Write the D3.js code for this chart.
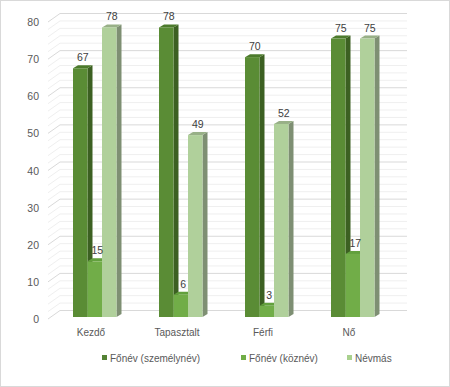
<!DOCTYPE html>
<html><head><meta charset="utf-8">
<script src="https://cdn.jsdelivr.net/npm/d3@7"></script>
<style>body{margin:0;background:#fff}svg{display:block}text{font-family:"Liberation Sans",Arial,sans-serif}</style>
</head><body>
<svg id="c" width="450" height="387"></svg>
<script>
const categories = ["Kezdő", "Tapasztalt", "Férfi", "Nő"];
const seriesNames = ["Főnév (személynév)", "Főnév (köznév)", "Névmás"];
const szemelynev = [67, 78, 70, 75];
const koznev = [15, 6, 3, 17];
const nevmas = [78, 49, 52, 75];
const yTicks = [0, 10, 20, 30, 40, 50, 60, 70, 80];

const seriesValues = [szemelynev, koznev, nevmas];
const colors = [
  {front:"#5a8c35", side:"#3c6022", top:"#4c7a2c", legend:"#548235"},
  {front:"#71ad48", side:"#4f7d33", top:"#62a03d", legend:"#70ad47"},
  {front:"#b0d09b", side:"#7e8f73", top:"#98b087", legend:"#a9d18e"}
];

const svg = d3.select("#c");
svg.append("rect").attr("x",0.5).attr("y",0.5).attr("width",449).attr("height",386)
  .attr("fill","#fff").attr("stroke","#d9d9d9");

const y = d3.scaleLinear().domain([0,80]).range([319,22]);
const x0 = d3.scaleBand().domain(categories).range([48,392]);
const x1 = d3.scaleBand().domain(seriesNames).range([0,43.5]);
const wallDx = 12, wallDy = -8.5;   // back wall offset
const barShiftY = -2;               // bar front plane
const dx = 5, dy = -3;              // bar depth
const wallRight = 407;

// minor gridlines
const minor = d3.range(0, 81, 2).filter(v => v % 10 !== 0);
const g = svg.append("g");
minor.forEach(v => {
  const yb = y(v) + wallDy;
  g.append("line").attr("x1",48+wallDx).attr("x2",wallRight).attr("y1",yb).attr("y2",yb)
    .attr("stroke","#efefef").attr("stroke-width",1);
  g.append("line").attr("x1",48).attr("y1",y(v)).attr("x2",48+wallDx).attr("y2",yb)
    .attr("stroke","#efefef");
});
yTicks.forEach(v => {
  const yb = y(v) + wallDy;
  g.append("line").attr("x1",48+wallDx).attr("x2",wallRight).attr("y1",yb).attr("y2",yb)
    .attr("stroke","#d9d9d9").attr("stroke-width",1);
  g.append("line").attr("x1",48).attr("y1",y(v)).attr("x2",48+wallDx).attr("y2",yb)
    .attr("stroke","#d9d9d9");
  svg.append("text").attr("x",39).attr("y",y(v)+4).attr("text-anchor","end")
    .attr("font-size",10.5).attr("fill","#595959").text(v);
});

// bars
const bars = svg.append("g");
const labels = svg.append("g");
categories.forEach((c, ci) => {
  seriesNames.forEach((s, si) => {
    const v = seriesValues[si][ci];
    const xl = x0(c) + 25 + x1(s);
    const w = x1.bandwidth();
    const xr = xl + w;
    const yt = y(v) + barShiftY;
    const yb = y(0) + barShiftY;
    const col = colors[si];
    bars.append("polygon").attr("points",
      [[xr,yt],[xr+dx,yt+dy],[xr+dx,yb+dy],[xr,yb]].map(p=>p.join(",")).join(" "))
      .attr("fill",col.side);
    bars.append("polygon").attr("points",
      [[xl,yt],[xl+dx,yt+dy],[xr+dx,yt+dy],[xr,yt]].map(p=>p.join(",")).join(" "))
      .attr("fill",col.top);
    bars.append("rect").attr("x",xl).attr("y",yt).attr("width",w).attr("height",yb-yt)
      .attr("fill",col.front);
    labels.append("text").attr("x",xl + w/2 + dx/2).attr("y",yt + dy - 4)
      .attr("text-anchor","middle").attr("font-size",10.5).attr("fill","#404040").text(v);
  });
  svg.append("text").attr("x",x0(c)+x0.bandwidth()/2).attr("y",336)
    .attr("text-anchor","middle").attr("font-size",10).attr("fill","#595959").text(c);
});

// legend
const legendX = [102, 241, 347];
seriesNames.forEach((s, i) => {
  svg.append("rect").attr("x",legendX[i]).attr("y",355).attr("width",5).attr("height",5)
    .attr("fill",colors[i].legend);
  svg.append("text").attr("x",legendX[i]+8).attr("y",362).attr("font-size",10)
    .attr("fill","#595959").text(s);
});
</script>
</body></html>
